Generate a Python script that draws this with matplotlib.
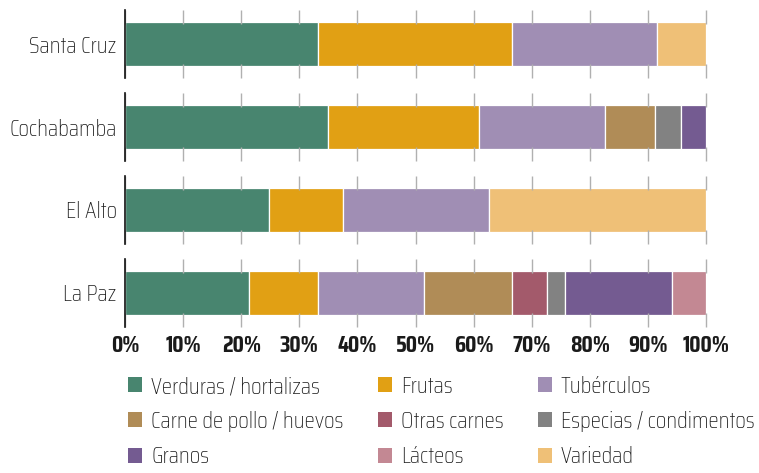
import matplotlib
matplotlib.use("Agg")
import matplotlib.pyplot as plt
import matplotlib.patches as mpatches
from matplotlib.ticker import PercentFormatter

plt.rcParams["font.family"] = ["Saira Condensed", "DejaVu Sans"]

cities = ["Santa Cruz", "Cochabamba", "El Alto", "La Paz"]
categories = ["Verduras / hortalizas", "Frutas", "Tubérculos",
              "Carne de pollo / huevos", "Otras carnes", "Especias / condimentos",
              "Granos", "Lácteos", "Variedad"]
colors = ["#48856f", "#e1a014", "#a08eb4",
          "#b08c57", "#a35a6b", "#828282",
          "#745b91", "#c38893", "#efc077"]

# shares (%) per city, in category order
santa_cruz = [33.2, 33.4, 25.0, 0, 0, 0, 0, 0, 8.4]
cochabamba = [34.9, 26.1, 21.7, 8.6, 0, 4.4, 4.3, 0, 0]
el_alto    = [24.8, 12.8, 25.0, 0, 0, 0, 0, 0, 37.4]
la_paz     = [21.4, 11.8, 18.3, 15.1, 6.0, 3.2, 18.3, 5.9, 0]
values = [santa_cruz, cochabamba, el_alto, la_paz]

ticks = list(range(0, 101, 10))

fig, axes = plt.subplots(4, 1, figsize=(7.59, 4.73), dpi=100, sharex=True)
fig.subplots_adjust(left=125/759, right=706/759, top=1-10/473,
                    bottom=1-327/473, hspace=0.22)

for ax, city, vals in zip(axes, cities, values):
    left = 0
    for v, c in zip(vals, colors):
        if v > 0:
            ax.barh(0, v, left=left, height=0.64, color=c,
                    edgecolor="white", linewidth=0.9)
            left += v
    ax.set_xlim(0, 100)
    ax.set_ylim(-0.5, 0.5)
    for s in ["top", "right", "bottom"]:
        ax.spines[s].set_visible(False)
    ax.spines["left"].set_color("#111111")
    ax.spines["left"].set_linewidth(1.2)
    ax.set_yticks([0])
    ax.set_yticklabels([city], fontsize=17, fontweight="light", color="#1a1a1a")
    ax.tick_params(axis="y", length=0, pad=6)
    ax.set_xticks(ticks)
    ax.tick_params(axis="x", which="both", direction="in", length=10,
                   color="#b0b0b0", width=1, top=True, bottom=True,
                   labelbottom=False)

axes[-1].tick_params(axis="x", labelbottom=True, pad=6)
axes[-1].xaxis.set_major_formatter(PercentFormatter(decimals=0))
for lbl in axes[-1].get_xticklabels():
    lbl.set_fontweight("bold")
    lbl.set_fontsize(17)
    lbl.set_color("#1a1a1a")

order = [0, 3, 6, 1, 4, 7, 2, 5, 8]
handles = [mpatches.Patch(facecolor=colors[i], label=categories[i]) for i in order]
fig.legend(handles=handles, ncol=3, loc="upper left",
           bbox_to_anchor=(128/759, 1-376/473), frameon=False,
           prop={"size": 17, "weight": "light"}, handlelength=0.6,
           handleheight=0.6, handletextpad=0.38, labelspacing=0.6,
           columnspacing=1.45, borderpad=0, borderaxespad=0,
           labelcolor="#1a1a1a")

plt.savefig("out.png", dpi=100)
